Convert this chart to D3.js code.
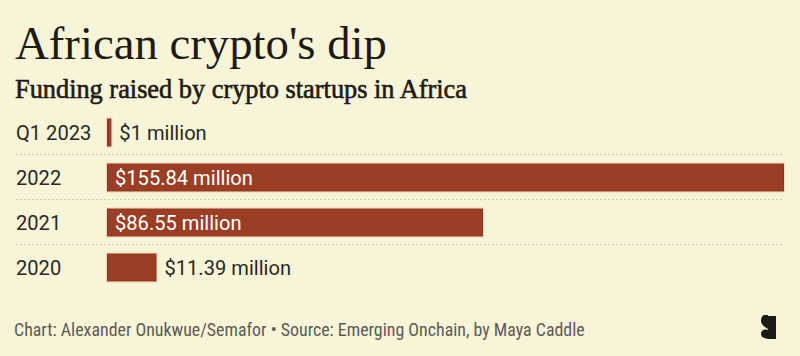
<!DOCTYPE html>
<html><head><meta charset="utf-8">
<script src="https://cdn.jsdelivr.net/npm/d3@7"></script>
<style>
html,body{margin:0;padding:0;background:#f8f4d8;}
svg{display:block;}
</style></head>
<body>
<svg id="chart" width="800" height="356"></svg>
<script>
const categories = ["Q1 2023", "2022", "2021", "2020"];
const values = [1, 155.84, 86.55, 11.39];
const valueLabels = ["$1 million", "$155.84 million", "$86.55 million", "$11.39 million"];
const title = "African crypto's dip";
const subtitle = "Funding raised by crypto startups in Africa";
const footer = "Chart: Alexander Onukwue/Semafor \u2022 Source: Emerging Onchain, by Maya Caddle";

const svg = d3.select("#chart");
svg.append("rect").attr("width", 800).attr("height", 356).attr("fill", "#f8f4d8");

function fitText(sel, target) {
  const w = sel.node().getComputedTextLength();
  const fs = parseFloat(sel.attr("font-size"));
  sel.attr("font-size", fs * target / w);
  return fs * target / w;
}

const t = svg.append("text").attr("x", 15).attr("y", 59)
  .attr("font-family", "Liberation Serif, serif").attr("font-size", 46)
  .attr("fill", "#1d1b16").text(title);
fitText(t, 372);

const st = svg.append("text").attr("x", 15).attr("y", 98)
  .attr("font-family", "Liberation Serif, serif").attr("font-size", 25)
  .attr("fill", "#1d1b16").attr("stroke", "#1d1b16").attr("stroke-width", 0.6).text(subtitle);
fitText(st, 452);

const x = d3.scaleLinear().domain([0, d3.max(values)]).range([107, 784]);
const y = d3.scaleBand().domain(categories).range([110, 290]).paddingInner(0.38).paddingOuter(0.19);

// separators
categories.slice(1).forEach(c => {
  const yy = y(c) - y.step() * y.paddingInner() / 2 - 0.5;
  svg.append("line").attr("x1", 16).attr("x2", 784).attr("y1", yy).attr("y2", yy)
    .attr("stroke", "#bdbba4").attr("stroke-width", 1).attr("stroke-dasharray", "1.5,2.5");
});

// measure label font size
const probe = svg.append("text").attr("font-family", "Roboto, sans-serif").attr("font-size", 19).text("$155.84 million");
const labelFs = fitText(probe, 138);
probe.remove();

const g = svg.append("g");
const rows = g.selectAll("g.row").data(categories.map((c, i) => ({c, v: values[i], l: valueLabels[i]})))
  .join("g").attr("class", "row");

rows.append("rect")
  .attr("x", d => x(0)).attr("y", d => y(d.c))
  .attr("width", d => x(d.v) - x(0)).attr("height", y.bandwidth())
  .attr("fill", "#9a3f26").attr("stroke", "#f6dcc0").attr("stroke-width", 2.5);
rows.append("rect")
  .attr("x", d => x(0) + 0.5).attr("y", d => y(d.c) + 0.5)
  .attr("width", d => Math.max(0, x(d.v) - x(0) - 1)).attr("height", y.bandwidth() - 1)
  .attr("fill", "#9a3f26").attr("stroke", "#8a3520").attr("stroke-width", 1);

rows.append("text").attr("x", 16).attr("y", d => y(d.c) + y.bandwidth() / 2)
  .attr("dy", "0.36em").attr("font-family", "Roboto, sans-serif").attr("font-size", labelFs)
  .attr("fill", "#2a2824").text(d => d.c);

rows.append("text")
  .attr("x", d => (x(d.v) - x(0) > 160) ? x(0) + 8 : x(d.v) + 8)
  .attr("y", d => y(d.c) + y.bandwidth() / 2)
  .attr("dy", "0.36em").attr("font-family", "Roboto, sans-serif").attr("font-size", labelFs)
  .attr("fill", d => (x(d.v) - x(0) > 160) ? "#ffffff" : "#2a2824").text(d => d.l);

const ft = svg.append("text").attr("x", 14).attr("y", 336)
  .attr("font-family", "Roboto Condensed, Roboto, sans-serif").attr("font-size", 16)
  .attr("fill", "#5d5b55").text(footer);
fitText(ft, 571);

// logo
const lg = svg.append("g").attr("fill", "#1d1b16");
lg.append("rect").attr("x", 768).attr("y", 316).attr("width", 8).attr("height", 23);
lg.append("path").attr("d", "M768,315 L765,315 C762,315 761,318 761,321 C761,324 764,327 768,329 Z");
lg.append("path").attr("d", "M768,330 C764,328.5 761,330.5 761,334 C761,337 764,338.5 768,339 Z");
</script>
</body></html>
